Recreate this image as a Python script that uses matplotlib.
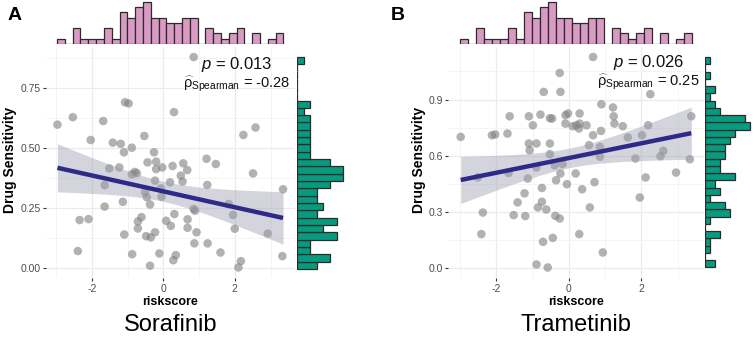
import numpy as np
import matplotlib
matplotlib.use("Agg")
import matplotlib.pyplot as plt

plt.rcParams['font.family'] = ['Liberation Sans', 'DejaVu Sans']
plt.rcParams['mathtext.fontset'] = 'custom'
plt.rcParams['mathtext.rm'] = 'Liberation Sans'
plt.rcParams['mathtext.it'] = 'Liberation Sans:italic'
plt.rcParams['mathtext.bf'] = 'Liberation Sans:bold'

# ---- data ----
# Sorafinib (panel A)
sora_risk = [0.85, -1.07, -0.97, 0.30, -2.53, -1.68, -2.96, 2.58, 2.24, -0.53,
             -2.03, -1.41, -1.19, -0.88, -1.10, -0.26, 1.21, -0.44, -0.20, 0.56,
             1.47, -1.51, -1.23, -0.20, -0.03, 0.26, 0.67, 0.49, -0.88, -0.80,
             -0.74, 2.51, -0.23, 0.19, 0.54, -1.64, 1.23, 3.35, -0.51, -0.07,
             -0.46, -0.05, -1.13, -0.37, -1.64, 1.83, 0.85, 0.89, -2.34, -2.09,
             -0.61, -0.71, 0.08, 0.68, 1.95, 0.31, 0.21, -0.71, 0.68, 2.00,
             -1.09, -0.23, 0.93, -0.48, -0.35, 2.92, 0.87, 1.24, -2.39, -0.87,
             -0.11, 0.35, 1.60, 3.33, 0.28, 2.17, -0.37, 2.10]
sora_sens = [0.878, 0.690, 0.685, 0.649, 0.628, 0.612, 0.597, 0.585, 0.554, 0.550,
             0.533, 0.522, 0.517, 0.501, 0.482, 0.482, 0.455, 0.440, 0.443, 0.436,
             0.433, 0.415, 0.419, 0.412, 0.419, 0.425, 0.408, 0.385, 0.390, 0.400,
             0.395, 0.394, 0.364, 0.357, 0.360, 0.345, 0.346, 0.328, 0.315, 0.332,
             0.295, 0.297, 0.276, 0.265, 0.256, 0.267, 0.246, 0.239, 0.200, 0.204,
             0.212, 0.194, 0.197, 0.203, 0.221, 0.225, 0.176, 0.165, 0.168, 0.164,
             0.140, 0.149, 0.149, 0.133, 0.128, 0.144, 0.103, 0.103, 0.071, 0.058,
             0.061, 0.054, 0.065, 0.050, 0.033, 0.029, 0.010, 0.003]

# Trametinib (panel B)
tram_risk = [0.67, -0.25, -0.69, -0.23, 2.25, 0.90, 1.22, -1.63, -1.10, -0.78,
             -0.52, -0.46, -0.09, -0.02, 0.30, 1.24, 3.38, -0.99, -0.09, 0.11,
             0.21, 0.30, 0.28, 0.49, 1.26, 1.49, 2.19, 0.89, -2.98, -2.12,
             -2.03, -1.69, 0.67, 1.63, 2.02, -1.10, -0.89, -0.52, 0.56, 0.86,
             -1.08, 2.61, -0.52, 2.53, 0.86, 1.84, 3.34, -0.39, -0.17, -0.89,
             -1.66, -0.23, 0.19, 2.96, -2.51, -1.13, 2.12, -0.35, 0.71, -0.05,
             -0.74, 0.37, -1.22, 1.96, -1.41, -0.74, -0.85, -0.62, 0.58, -2.37,
             -1.52, -1.20, -0.37, -0.25, -2.41, 0.29, -0.44, -0.71, 0.94, -0.89,
             -0.58]
tram_sens = [1.127, 1.042, 0.941, 0.941, 0.929, 0.875, 0.858, 0.811, 0.811, 0.820,
             0.801, 0.799, 0.817, 0.826, 0.826, 0.811, 0.811, 0.763, 0.772, 0.758,
             0.763, 0.772, 0.746, 0.763, 0.772, 0.758, 0.763, 0.733, 0.701, 0.710,
             0.714, 0.719, 0.710, 0.698, 0.710, 0.666, 0.666, 0.666, 0.657, 0.648,
             0.630, 0.627, 0.609, 0.598, 0.595, 0.586, 0.582, 0.550, 0.556, 0.538,
             0.509, 0.506, 0.506, 0.511, 0.485, 0.479, 0.485, 0.470, 0.460, 0.449,
             0.429, 0.422, 0.400, 0.378, 0.352, 0.355, 0.325, 0.314, 0.325, 0.298,
             0.284, 0.279, 0.280, 0.266, 0.183, 0.183, 0.163, 0.142, 0.085, 0.021,
             0.005]

# marginal histogram counts (29 bins each)
risk_counts = [1, 0, 3, 1, 1, 1, 3, 1, 6, 5, 7, 8, 5, 5, 4, 4, 5, 5, 0, 3,
               2, 1, 2, 3, 0, 2, 0, 1, 2]
sora_counts_top_down = [1, 0, 0, 0, 0, 0, 2, 1, 2, 2, 2, 2, 2, 2, 5, 7, 7, 5, 3, 3,
                        4, 3, 6, 4, 6, 2, 2, 5, 3]
tram_counts_top_down = [1, 0, 1, 0, 2, 1, 2, 3, 8, 9, 6, 5, 4, 4, 3, 3, 6, 2, 3, 1,
                        4, 5, 1, 0, 3, 1, 1, 0, 2]

sora_stats = ("0.013", "-0.28")
tram_stats = ("0.026", "0.25")

# ---- figure ----
W, H = 754, 346
fig = plt.figure(figsize=(W / 100, H / 100), dpi=100)


def px_axes(l, t, r, b):
    return fig.add_axes([l / W, 1 - b / H, (r - l) / W, (b - t) / H])


def fit_band(x, y, xs):
    n = len(x)
    slope, icpt = np.polyfit(x, y, 1)
    yhat = icpt + slope * xs
    resid = y - (icpt + slope * x)
    s = np.sqrt(np.sum(resid ** 2) / (n - 2))
    se = s * np.sqrt(1 / n + (xs - x.mean()) ** 2 / np.sum((x - x.mean()) ** 2))
    return yhat, yhat - 1.99 * se, yhat + 1.99 * se


def panel(box, xlim, ylim, x, y, yticks, yticklabels, minor_y,
          top_edges, right_edges, right_counts, right_box, right_xmax, stats,
          txt_x, txt_y, letter, letter_x, ylab_x, title):
    x = np.array(x)
    y = np.array(y)
    ax = px_axes(*box)
    ax.set_xlim(xlim)
    ax.set_ylim(ylim)
    for sp in ax.spines.values():
        sp.set_visible(False)
    for v in [-3, -1, 1, 3]:
        ax.axvline(v, color='#F3F3F3', lw=0.6, zorder=0)
    for v in [-2, 0, 2]:
        ax.axvline(v, color='#EBEBEB', lw=0.9, zorder=0)
    for v in minor_y:
        ax.axhline(v, color='#F3F3F3', lw=0.6, zorder=0)
    for v in yticks:
        ax.axhline(v, color='#EBEBEB', lw=0.9, zorder=0)

    ax.scatter(x, y, s=38, color='#808080', alpha=0.6, edgecolors='none', zorder=2)
    xs = np.linspace(x.min(), x.max(), 100)
    yhat, lo, hi = fit_band(x, y, xs)
    ax.fill_between(xs, lo, hi, color='#A0A0B4', alpha=0.45, lw=0, zorder=3)
    ax.plot(xs, yhat, color='#2E2A8A', lw=3.2, zorder=4, solid_capstyle='butt')

    ax.set_xticks([-2, 0, 2])
    ax.set_xticklabels(['-2', '0', '2'])
    ax.set_yticks(yticks)
    ax.set_yticklabels(yticklabels)
    ax.tick_params(length=2.5, width=0.8, color='#333333', labelcolor='#4D4D4D',
                   labelsize=7.5, pad=1.5)

    ax.text(txt_x, txt_y[0], r'$p$ = ' + stats[0], transform=ax.transData,
            ha='center', va='center', fontsize=12, color='#111111', zorder=5)
    ax.text(txt_x, txt_y[1], r'$\widehat{\mathrm{\rho}}_{\mathrm{Spearman}}$ = ' + stats[1],
            transform=ax.transData, ha='center', va='center', fontsize=10.5,
            color='#111111', zorder=5)

    # top marginal histogram
    axt = px_axes(box[0], 0, box[2], 44)
    axt.set_xlim(xlim)
    axt.set_ylim(0, 8.38)
    axt.bar(top_edges[:-1], risk_counts, width=np.diff(top_edges), align='edge',
            color='#D99BC3', edgecolor='#2B2B2B', lw=0.9)
    axt.axis('off')

    # right marginal histogram
    axr = px_axes(right_box[0], box[1], right_box[1], box[3])
    axr.set_ylim(ylim)
    axr.set_xlim(0, right_xmax)
    axr.barh(right_edges[:-1], right_counts, height=np.diff(right_edges), align='edge',
             color='#069A7E', edgecolor='#2B2B2B', lw=0.9)
    axr.axis('off')

    cx = (box[0] + box[2]) / 2
    fig.text(letter_x / W, 1 - 16 / H, letter, fontsize=14, fontweight='bold',
             ha='center', va='center')
    fig.text(ylab_x / W, 1 - 160 / H, 'Drug Sensitivity', rotation=90, fontsize=10,
             fontweight='bold', ha='center', va='center')
    fig.text(cx / W, 1 - 302 / H, 'riskscore', fontsize=9, fontweight='bold',
             ha='center', va='center')
    fig.text(cx / W, 1 - 325 / H, title, fontsize=17, ha='center', va='center')


panel((46, 46.5, 294.5, 278), (-3.28, 3.67), (-0.041, 0.922), sora_risk, sora_sens,
      [0, 0.25, 0.5, 0.75], ['0.00', '0.25', '0.50', '0.75'], [0.125, 0.375, 0.625, 0.875],
      np.linspace(-2.97, 3.36, 30), np.linspace(-0.003, 0.88, 30),
      sora_counts_top_down[::-1], (297, 350), 8.03,
      sora_stats, 2.05, (0.848, 0.765), 'A', 15, 10, 'Sorafinib')

panel((448.4, 46.5, 703.6, 278), (-3.32, 3.72), (-0.051, 1.183), tram_risk, tram_sens,
      [0, 0.3, 0.6, 0.9], ['0.0', '0.3', '0.6', '0.9'], [0.15, 0.45, 0.75, 1.05],
      np.linspace(-3.01, 3.41, 30), np.linspace(0.005, 1.127, 30),
      tram_counts_top_down[::-1], (705, 754), 9.8,
      tram_stats, 2.2, (1.100, 0.993), 'B', 398, 419, 'Trametinib')

fig.savefig('out.png', dpi=100)
